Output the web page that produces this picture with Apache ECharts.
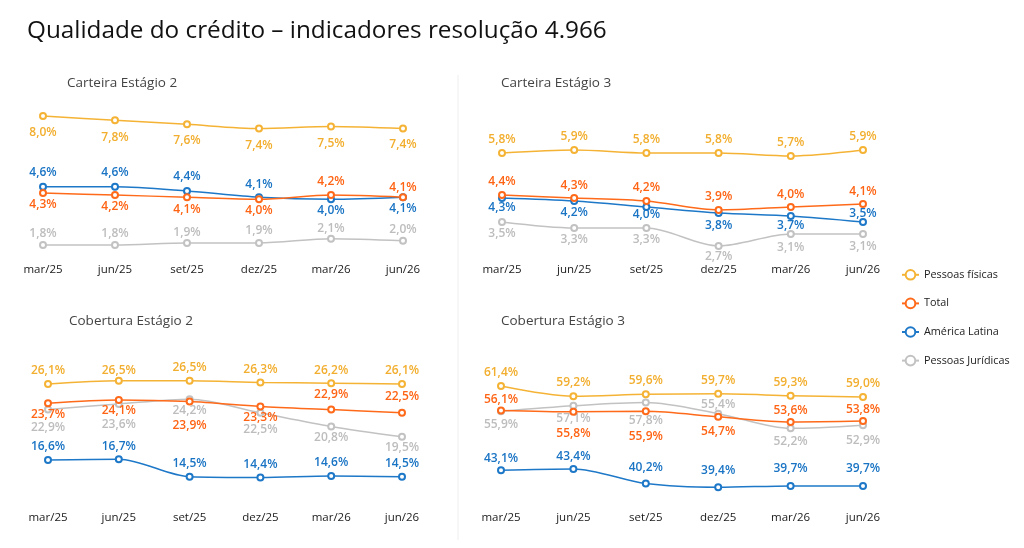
<!DOCTYPE html>
<html>
<head>
<meta charset="utf-8">
<script src="https://cdn.jsdelivr.net/npm/echarts@6/dist/echarts.min.js"></script>
<style>
  html, body { margin: 0; padding: 0; background: #fff; }
  #main { width: 1024px; height: 548px; }
</style>
</head>
<body>
<div id="main"></div>
<script>
// categorias (trimestres)
var periodos = ['mar/25', 'jun/25', 'set/25', 'dez/25', 'mar/26', 'jun/26'];
var nomes = ['Pessoas físicas', 'Total', 'América Latina', 'Pessoas Jurídicas'];

// Carteira Estágio 2 (%)
var cartE2_pf = [8.0, 7.8, 7.6, 7.4, 7.5, 7.4];
var cartE2_total = [4.3, 4.2, 4.1, 4.0, 4.2, 4.1];
var cartE2_al = [4.6, 4.6, 4.4, 4.1, 4.0, 4.1];
var cartE2_pj = [1.8, 1.8, 1.9, 1.9, 2.1, 2.0];

// Carteira Estágio 3 (%)
var cartE3_pf = [5.8, 5.9, 5.8, 5.8, 5.7, 5.9];
var cartE3_total = [4.4, 4.3, 4.2, 3.9, 4.0, 4.1];
var cartE3_al = [4.3, 4.2, 4.0, 3.8, 3.7, 3.5];
var cartE3_pj = [3.5, 3.3, 3.3, 2.7, 3.1, 3.1];

// Cobertura Estágio 2 (%)
var cobE2_pf = [26.1, 26.5, 26.5, 26.3, 26.2, 26.1];
var cobE2_total = [23.7, 24.1, 23.9, 23.3, 22.9, 22.5];
var cobE2_al = [16.6, 16.7, 14.5, 14.4, 14.6, 14.5];
var cobE2_pj = [22.9, 23.6, 24.2, 22.5, 20.8, 19.5];

// Cobertura Estágio 3 (%)
var cobE3_pf = [61.4, 59.2, 59.6, 59.7, 59.3, 59.0];
var cobE3_total = [56.1, 55.8, 55.9, 54.7, 53.6, 53.8];
var cobE3_al = [43.1, 43.4, 40.2, 39.4, 39.7, 39.7];
var cobE3_pj = [55.9, 57.1, 57.8, 55.4, 52.2, 52.9];

var cores = ['#F5B335', '#FF6A1A', '#1E78C8', '#C2C2C2'];
var coresRotulo = ['#F2AE2E', '#FF6414', '#1A74C4', '#BDBDBD'];

// paineis: grade, escala e deslocamento vertical dos rotulos (px)
var paineis = [
  {
    titulo: 'Carteira Estágio 2', tx: 62, ty: 71,
    grid: { left: 43, right: 621, top: 100, height: 160 }, min: 1.08, max: 8.77,
    series: [cartE2_pf, cartE2_total, cartE2_al, cartE2_pj],
    dy: [[17, 17, 16, 17, 17, 16], [12, 11, 12, 11, -14, -10], [-14, -14, -14, -13, 11, 11], [-11, -11, -10, -12, -10, -11]]
  },
  {
    titulo: 'Carteira Estágio 3', tx: 496, ty: 71,
    grid: { left: 502, right: 161, top: 100, height: 160 }, min: 2.23, max: 7.57,
    series: [cartE3_pf, cartE3_total, cartE3_al, cartE3_pj],
    dy: [[-13, -13, -13, -13, -13, -13], [-13, -12, -13, -13, -12, -12], [10, 12, 8, 13, 10, -8], [12, 12, 12, 11, 14, 13]]
  },
  {
    titulo: 'Cobertura Estágio 2', tx: 64, ty: 309,
    grid: { left: 48, right: 622, top: 340, height: 168 }, min: 10.6, max: 31.6,
    series: [cobE2_pf, cobE2_total, cobE2_al, cobE2_pj],
    dy: [[-13, -10, -13, -13, -13, -13], [11, 11, 24, 11, -15, -16], [-13, -13, -13, -13, -13, -13], [18, 21, 11, 17, 11, 11]]
  },
  {
    titulo: 'Cobertura Estágio 3', tx: 496, ty: 309,
    grid: { left: 501, right: 161, top: 340, height: 168 }, min: 34.9, max: 71.4,
    series: [cobE3_pf, cobE3_total, cobE3_al, cobE3_pj],
    dy: [[-13.5, -13.5, -13.5, -13.5, -13.5, -13.5], [-11, 22, 25, 15, -11, -11], [-12, -12, -16, -17, -17, -17], [13, 13, 18, -9, 13, 15]]
  }
];

function fmt(v) {
  return v.toFixed(1).replace('.', ',') + '%';
}

var grids = [], xAxes = [], yAxes = [], series = [], titles = [];

titles.push({
  text: 'Qualidade do crédito – indicadores resolução 4.966',
  left: 22, top: 14,
  textStyle: { fontFamily: 'Open Sans', fontSize: 24.3, fontWeight: 'normal', color: '#111' }
});

paineis.forEach(function (p, gi) {
  titles.push({
    text: p.titulo, left: p.tx, top: p.ty,
    textStyle: { fontFamily: 'Open Sans', fontSize: 13.5, fontWeight: 'normal', color: '#444' }
  });
  grids.push(p.grid);
  xAxes.push({
    type: 'category', gridIndex: gi, data: periodos, boundaryGap: false,
    axisLine: { show: false }, axisTick: { show: false }, splitLine: { show: false },
    axisLabel: { margin: 4, color: '#1a1a1a', fontFamily: 'Open Sans', fontSize: 11.5 }
  });
  yAxes.push({ type: 'value', gridIndex: gi, min: p.min, max: p.max, show: false, splitLine: { show: false } });

  p.series.forEach(function (vals, si) {
    series.push({
      name: nomes[si], type: 'line', xAxisIndex: gi, yAxisIndex: gi,
      z: 10 - si,
      smooth: 0.3,
      symbol: 'emptyCircle', symbolSize: 6,
      lineStyle: { color: cores[si], width: 1.5 },
      itemStyle: { color: cores[si], borderWidth: 1.5 },
      data: vals.map(function (v, i) {
        return {
          value: v,
          label: { offset: [0, p.dy[si][i]] }
        };
      }),
      label: {
        show: true, position: 'inside',
        formatter: function (d) { return fmt(d.value); },
        color: coresRotulo[si], fontFamily: 'Open Sans', fontSize: 12, fontWeight: 600
      },
      emphasis: { disabled: true },
      animation: false
    });
  });
});

var chart = echarts.init(document.getElementById('main'));
chart.setOption({
  backgroundColor: '#fff',
  color: cores,
  title: titles,
  grid: grids,
  xAxis: xAxes,
  yAxis: yAxes,
  legend: {
    orient: 'vertical', left: 896, top: 264, itemGap: 17,
    itemWidth: 17, itemHeight: 12,
    data: nomes,
    textStyle: { color: '#222', fontFamily: 'Open Sans', fontSize: 10.8 }
  },
  graphic: [
    { type: 'line', shape: { x1: 458, y1: 75, x2: 458, y2: 540 }, style: { stroke: '#EEEEEE', lineWidth: 1 } }
  ],
  series: series
});
</script>
</body>
</html>
